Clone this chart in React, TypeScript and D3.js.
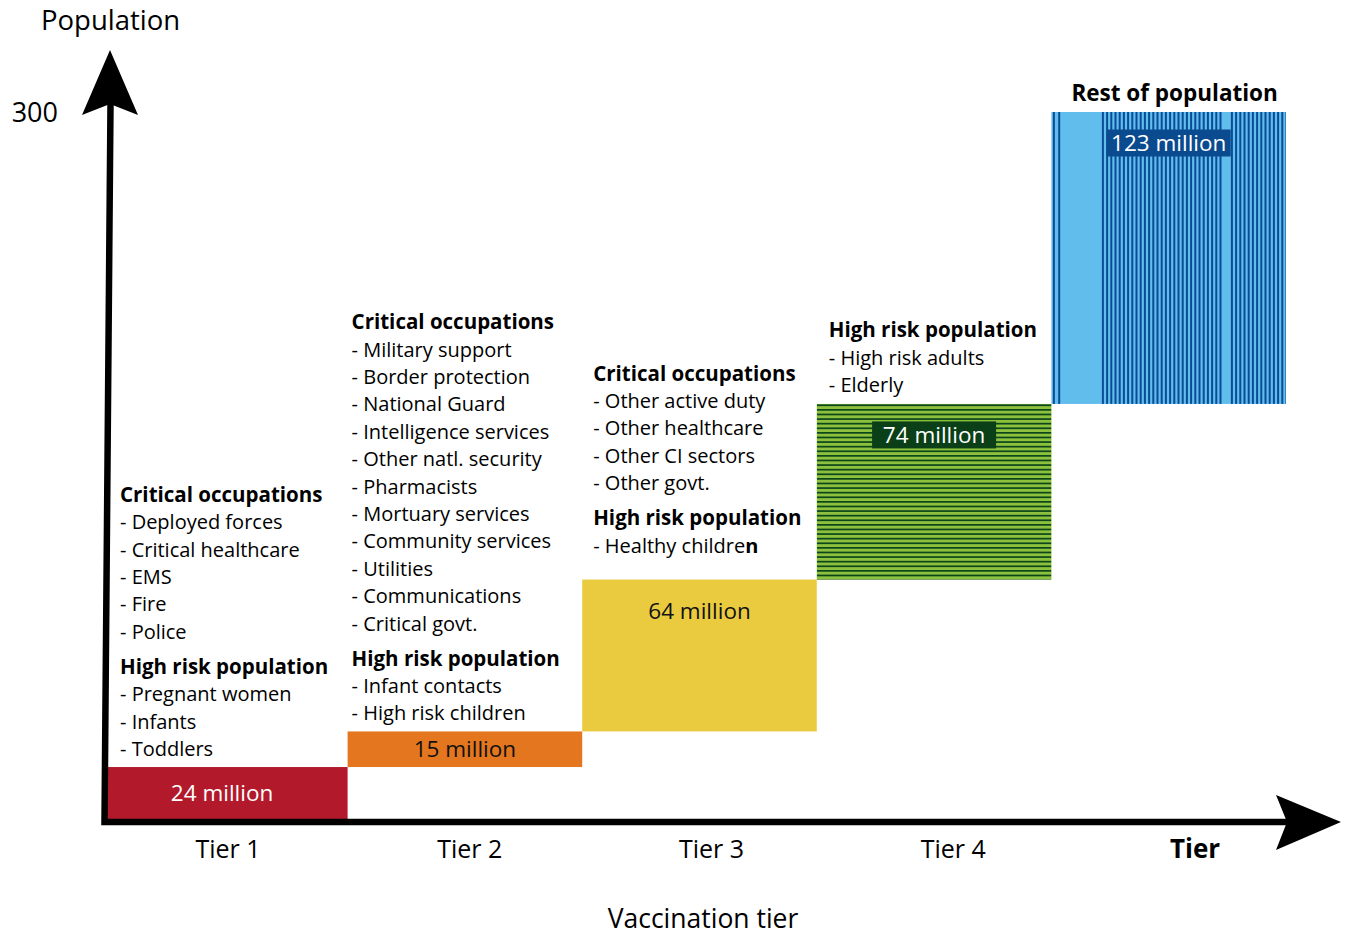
import React from "react";
import * as d3 from "d3";

// ---------- data ----------
const TIERS = ["Tier 1", "Tier 2", "Tier 3", "Tier 4", "Tier 5"];
const TIER_LABELS = ["Tier 1", "Tier 2", "Tier 3", "Tier 4", "Tier"];
const POPULATION_MILLIONS = [24, 15, 64, 74, 123];
const Y_TICKS = [300];
const Y_MAX = 300;
const Y_TITLE = "Population";
const X_TITLE = "Vaccination tier";

type Item = string | { text: string; boldTail: string };
type Group = { heading: string; items: Item[] };

const TIER1_TEXT: Group[] = [
  { heading: "Critical occupations", items: ["Deployed forces", "Critical healthcare", "EMS", "Fire", "Police"] },
  { heading: "High risk population", items: ["Pregnant women", "Infants", "Toddlers"] },
];
const TIER2_TEXT: Group[] = [
  {
    heading: "Critical occupations",
    items: [
      "Military support", "Border protection", "National Guard", "Intelligence services",
      "Other natl. security", "Pharmacists", "Mortuary services", "Community services",
      "Utilities", "Communications", "Critical govt.",
    ],
  },
  { heading: "High risk population", items: ["Infant contacts", "High risk children"] },
];
const TIER3_TEXT: Group[] = [
  { heading: "Critical occupations", items: ["Other active duty", "Other healthcare", "Other CI sectors", "Other govt."] },
  { heading: "High risk population", items: [{ text: "Healthy childre", boldTail: "n" }] },
];
const TIER4_TEXT: Group[] = [
  { heading: "High risk population", items: ["High risk adults", "Elderly"] },
];
const TIER5_TEXT: Group[] = [{ heading: "Rest of population", items: [] }];
const TIER_TEXTS = [TIER1_TEXT, TIER2_TEXT, TIER3_TEXT, TIER4_TEXT, TIER5_TEXT];

// ---------- layout / style ----------
const W = 1346;
const H = 935;
const FONT = "'Open Sans', 'Noto Sans', sans-serif";
const AXIS_X_BOTTOM = 104.5;
const AXIS_X_TOP = 110.5;
const AXIS_Y = 822;
const LINE = 27.4;
const GROUP_GAP = 35;
const TEXT_GAP = [11, 11, 27, 12, 11];
const TEXT_DX = [7, 4, 11, 12, 20];

const RED = "#B2192B";
const ORANGE = "#E3761E";
const YELLOW = "#EACB40";
const GREEN_LIGHT = "#8DC03D";
const GREEN_DARK = "#0C471B";
const GREEN_BOX = "#0A3F17";
const BLUE_LIGHT = "#61BDEB";
const BLUE_DARK = "#0B4C97";
const BLUE_BOX = "#0A4A8E";

export default function App() {
  const x = d3.scaleBand<string>().domain(TIERS).range([113, 1286]).padding(0);
  const y = d3.scaleLinear().domain([0, Y_MAX]).range([824, 112]);
  const xLabel = d3.scalePoint<string>().domain(TIERS).range([228, 1195]);

  const cum = d3.cumsum(POPULATION_MILLIONS);
  const bars = TIERS.map((t, i) => {
    const lo = i === 0 ? 0 : cum[i - 1];
    const hi = cum[i];
    const x0 = i === 0 ? AXIS_X_BOTTOM : (x(t) as number);
    const x1 = (x(t) as number) + x.bandwidth();
    return { t, i, x0, x1, top: y(hi), bottom: y(lo), value: POPULATION_MILLIONS[i] };
  });

  const fills = [RED, ORANGE, YELLOW, GREEN_LIGHT, BLUE_LIGHT];

  return (
    <svg
      width={W}
      height={H}
      viewBox={`0 0 ${W} ${H}`}
      style={{ position: "absolute", left: 0, top: 0, background: "#fff" }}
      fontFamily={FONT}
    >
      <defs>
        {bars.map((b) => (
          <clipPath id={`clip${b.i}`} key={b.i}>
            <rect x={b.x0} y={b.top} width={b.x1 - b.x0} height={b.bottom - b.top} />
          </clipPath>
        ))}
      </defs>

      {/* bars */}
      {bars.map((b) => (
        <g key={b.t}>
          <rect x={b.x0} y={b.top} width={b.x1 - b.x0} height={b.bottom - b.top} fill={fills[b.i]} />
          {b.i === 3 && (
            <g clipPath={`url(#clip${b.i})`}>
              {d3.range(b.top + 0.5, b.bottom, 4.6).map((yy, k) => (
                <rect key={k} x={b.x0} y={yy} width={b.x1 - b.x0} height={1.7} fill={GREEN_DARK} />
              ))}
            </g>
          )}
          {b.i === 4 && (
            <g clipPath={`url(#clip${b.i})`}>
              {[
                ...d3.range(1.5, 10, 5.3),
                ...d3.range(50.5, 170, 4.2),
                ...d3.range(179.5, 236, 4.2),
              ].map((dx, k) => (
                <rect key={k} x={b.x0 + dx} y={b.top} width={2} height={b.bottom - b.top} fill={BLUE_DARK} />
              ))}
            </g>
          )}
        </g>
      ))}

      {/* bar value labels */}
      {bars.map((b) => {
        const visibleBottom = Math.min(b.bottom, AXIS_Y - 4);
        const cy = Math.min((b.top + visibleBottom) / 2, b.top + 31);
        const cx = (b.x0 + b.x1) / 2 + (b.i === 0 ? -4 : 0);
        const boxed = b.i >= 3;
        const label = `${b.value} million`;
        return (
          <g key={`l${b.t}`}>
            {boxed && (
              <rect
                x={cx - 62}
                y={cy - 13.5}
                width={124}
                height={27}
                fill={b.i === 3 ? GREEN_BOX : BLUE_BOX}
              />
            )}
            <text
              x={cx}
              y={cy}
              dy="0.36em"
              textAnchor="middle"
              fontSize={22.5}
              fill={b.i === 0 || boxed ? "#fff" : "#111"}
            >
              {label}
            </text>
          </g>
        );
      })}

      {/* text blocks */}
      {bars.map((b) => {
        const groups = TIER_TEXTS[b.i];
        const lines: { y: number; bold: boolean; item?: Item; heading?: string }[] = [];
        let off = 0;
        groups.forEach((g, gi) => {
          if (gi > 0) off += GROUP_GAP;
          lines.push({ y: off, bold: true, heading: g.heading });
          g.items.forEach((it) => {
            off += LINE;
            lines.push({ y: off, bold: false, item: it });
          });
        });
        const bottomBase = b.top - TEXT_GAP[b.i];
        const start = bottomBase - off;
        const tx = (x(b.t) as number) + TEXT_DX[b.i];
        return (
          <g key={`t${b.t}`}>
            {lines.map((ln, k) => (
              <text
                key={k}
                x={tx}
                y={start + ln.y}
                fontSize={ln.bold ? (b.i === 4 ? 22.5 : 20.5) : 20}
                fontWeight={ln.bold ? 700 : 400}
                fill="#000"
              >
                {ln.bold
                  ? ln.heading
                  : typeof ln.item === "string"
                  ? `- ${ln.item}`
                  : (
                    <>
                      {`- ${(ln.item as any).text}`}
                      <tspan fontWeight={700}>{(ln.item as any).boldTail}</tspan>
                    </>
                  )}
              </text>
            ))}
          </g>
        );
      })}

      {/* axes */}
      <path
        d={`M${AXIS_X_TOP},104 L${AXIS_X_BOTTOM},${AXIS_Y} L1290,${AXIS_Y}`}
        fill="none"
        stroke="#000"
        strokeWidth={6.5}
        strokeLinejoin="miter"
      />
      <path d={`M110,50 L138,115 L110,104 L82,115 Z`} fill="#000" />
      <path d={`M1341,${AXIS_Y} L1276,795 L1287,${AXIS_Y} L1276,850 Z`} fill="#000" />

      {/* y axis title and tick */}
      <text x={41} y={30} fontSize={27.5} fill="#000">{Y_TITLE}</text>
      {Y_TICKS.map((t) => (
        <text key={t} x={58} y={y(t)} dy="0.36em" textAnchor="end" fontSize={27} fill="#000">
          {t}
        </text>
      ))}

      {/* x tick labels */}
      {TIERS.map((t, i) => (
        <text
          key={t}
          x={xLabel(t)}
          y={858}
          textAnchor="middle"
          fontSize={i === 4 ? 26 : 25}
          fontWeight={i === 4 ? 700 : 400}
          fill="#000"
        >
          {TIER_LABELS[i]}
        </text>
      ))}

      <text x={703} y={928} textAnchor="middle" fontSize={26.5} fill="#000">{X_TITLE}</text>
    </svg>
  );
}
